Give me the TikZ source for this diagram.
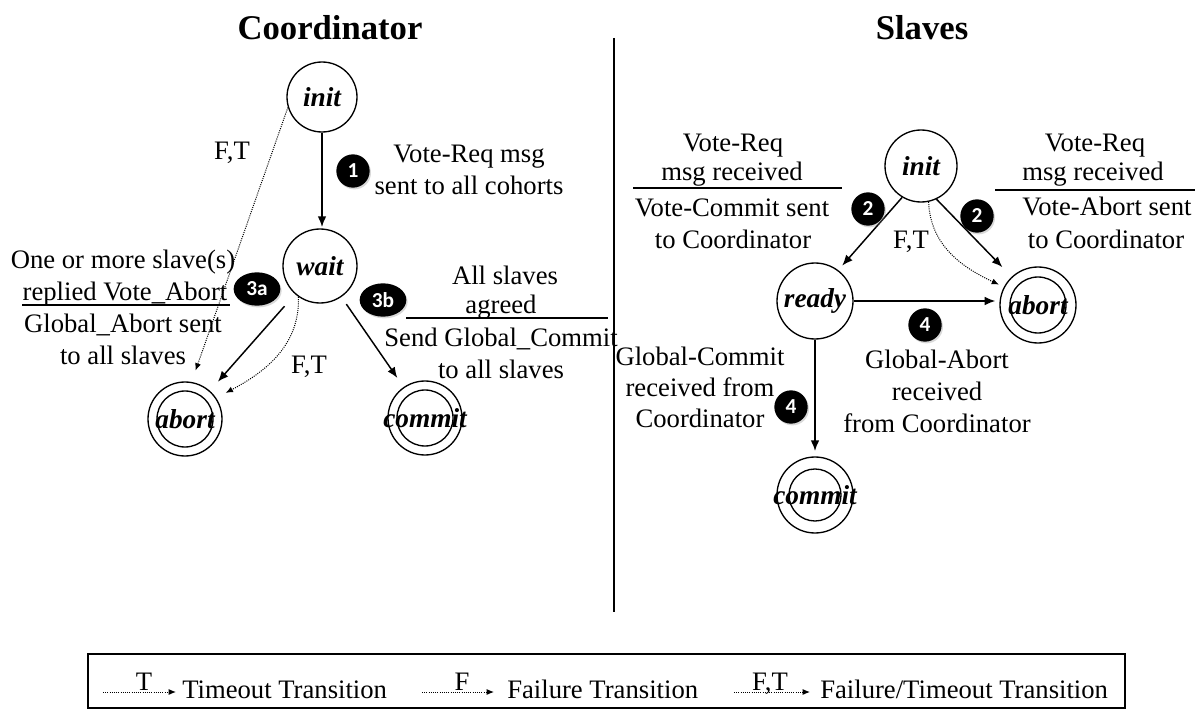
\documentclass[tikz,border=0pt]{standalone}
\usepackage{fontspec}
\setmainfont{Liberation Serif}
\newfontfamily\badgefont{Carlito}
\usetikzlibrary{arrows.meta,shapes.geometric,shadows}
\begin{document}
\begin{tikzpicture}[x=0.75pt,y=0.75pt,
  stnode/.style={circle, draw, line width=1pt, minimum size=#1, inner sep=0pt,
    font=\fontsize{20.5}{24}\selectfont\bfseries\itshape},
  innerring/.style={line width=1pt},
  arr/.style={line width=1.1pt, -{Latex[length=8pt,width=6.5pt]}},
  dotarr/.style={line width=0.75pt, dash pattern=on 0.75pt off 0.9pt, -{Latex[length=5.5pt,width=4.5pt]}},
  lbl/.style={anchor=base, inner sep=0pt, font=\fontsize{20}{24}\selectfont},
  ttl/.style={anchor=base, inner sep=0pt, font=\fontsize{26}{30}\selectfont\bfseries},
  badge/.style={circle, fill=black, text=white, minimum size=25pt, inner sep=0pt,
    font=\badgefont\bfseries\fontsize{16}{16}\selectfont,
    drop shadow={opacity=0.3, shadow xshift=1pt, shadow yshift=-1.3pt}},
  badgew/.style={badge, ellipse, minimum width=35pt, minimum height=25pt},
  bar/.style={line width=1pt}
]
\useasboundingbox (0,0) rectangle (1195,-709);

% titles and divider
\node[ttl] (tC) at (330,-40) {Coordinator};
\node[ttl] (tS) at (922,-40) {Slaves};
\coordinate (dv1) at (614,-38);
\coordinate (dv2) at (614,-612);
\draw[line width=1pt] (dv1) -- (dv2);

% ---------- Coordinator ----------
\node[stnode=52.5pt] (initL) at (322,-97) {\makebox[0pt]{init}};
\node[stnode=55.5pt] (waitL) at (320,-266) {\makebox[0pt]{wait}};
\node[stnode=55.5pt] (abortL) at (185,-419) {\makebox[0pt]{abort}};
\draw[innerring] (abortL.center) circle[radius=21pt];
\node[stnode=55.5pt] (commitL) at (425,-418) {\makebox[0pt]{commit}};
\draw[innerring] (commitL.center) circle[radius=21pt];

\draw[arr, shorten >=1pt] (initL.south) -- (initL.south |- waitL.north);
\draw[dotarr, shorten >=9pt] (initL.197) -- (abortL.80);
\draw[arr, shorten <=12pt, shorten >=9pt] (waitL) -- (abortL);
\draw[arr, shorten <=6.5pt, shorten >=8.25pt] (waitL) -- (commitL);
\draw[dotarr, shorten >=8pt] (waitL.235) to[out=-88, in=28] (abortL.34);

\node[badge] (b1) at (353,-171) {1};
\node[badgew] (b3a) at (257,-289) {3a};
\node[badgew] (b3b) at (383,-300) {3b};

\node[lbl] (t1a) at (469,-163) {Vote-Req msg};
\node[lbl] (t1b) at (469,-195) {sent to all cohorts};
\node[lbl] (ftL1) at (232,-160) {F,T};
\node[lbl] (ftL2) at (309,-373) {F,T};

\node[lbl] (a1) at (123,-268) {One or more slave(s)};
\node[lbl] (a2) at (125,-300) {replied Vote\_Abort};
\draw[bar] (22,-305) -- (230,-305);
\node[lbl] (a3) at (123,-332) {Global\_Abort sent};
\node[lbl] (a4) at (123,-364) {to all slaves};

\node[lbl] (c1) at (505,-285) {All slaves};
\node[lbl] (c2) at (501,-313) {agreed};
\draw[bar] (406,-318) -- (608,-318);
\node[lbl] (c3) at (501,-346) {Send Global\_Commit};
\node[lbl] (c4) at (501,-378) {to all slaves};

% ---------- Slaves ----------
\node[stnode=54pt] (initR) at (921,-166) {\makebox[0pt]{init}};
\node[stnode=57pt] (ready) at (815,-301) {\makebox[0pt]{ready}};
\node[stnode=57pt] (abortR) at (1038,-305) {\makebox[0pt]{abort}};
\draw[innerring] (abortR.center) circle[radius=21pt];
\node[stnode=57pt] (commitR) at (815,-495) {\makebox[0pt]{commit}};
\draw[innerring] (commitR.center) circle[radius=19.5pt];

\draw[arr, shorten >=4.5pt] (initR.239) -- (ready.53);
\draw[arr, shorten >=10pt] (initR.295) -- (abortR.133);
\draw[dotarr, shorten >=4pt] (initR.282) to[out=-88, in=155] (abortR.152);
\draw[arr, shorten >=3pt] (ready.east) -- (ready.east -| abortR.west);
\draw[arr, shorten >=4pt] (ready.south) -- (ready.south |- commitR.north);

\node[badge] (b2l) at (868,-209) {2};
\node[badge] (b2r) at (977,-216) {2};
\node[badge] (b4a) at (925,-325) {4};
\node[badge] (b4b) at (791,-407) {4};

\node[lbl] (ftR) at (911,-248) {F,T};

\node[lbl] (s1) at (733,-152) {Vote-Req};
\node[lbl] (s2) at (732,-181) {msg received};
\draw[bar] (633,-188) -- (842,-188);
\node[lbl] (s3) at (732,-217) {Vote-Commit sent};
\node[lbl] (s4) at (733,-248) {to Coordinator};

\node[lbl] (r1) at (1095,-152) {Vote-Req};
\node[lbl] (r2) at (1093,-181) {msg received};
\draw[bar] (995,-190) -- (1195,-190);
\node[lbl] (r3) at (1107,-216) {Vote-Abort sent};
\node[lbl] (r4) at (1106,-248) {to Coordinator};

\node[lbl] (g1) at (700,-365) {Global-Commit};
\node[lbl] (g2) at (700,-396) {received from};
\node[lbl] (g3) at (700,-427) {Coordinator};

\node[lbl] (h1) at (937,-368) {Global-Abort};
\node[lbl] (h2) at (937,-400) {received};
\node[lbl] (h3) at (937,-432) {from Coordinator};

% ---------- Legend ----------
\draw[line width=1pt] (88,-654) rectangle (1125,-708);
\coordinate (l1a) at (103,-692); \coordinate (l1b) at (176,-692);
\draw[dotarr] (l1a) -- (l1b);
\node[lbl] (l1t) at (144,-690) {T};
\node[lbl, anchor=base west] (l1x) at (182,-698) {Timeout Transition};
\coordinate (l2a) at (422,-692); \coordinate (l2b) at (494,-692);
\draw[dotarr] (l2a) -- (l2b);
\node[lbl] (l2t) at (462,-690) {F};
\node[lbl, anchor=base west] (l2x) at (507,-698) {Failure Transition};
\coordinate (l3a) at (734,-692); \coordinate (l3b) at (810,-692);
\draw[dotarr] (l3a) -- (l3b);
\node[lbl] (l3t) at (770,-690) {F,T};
\node[lbl, anchor=base west] (l3x) at (820,-698) {Failure/Timeout Transition};
\end{tikzpicture}
\end{document}
